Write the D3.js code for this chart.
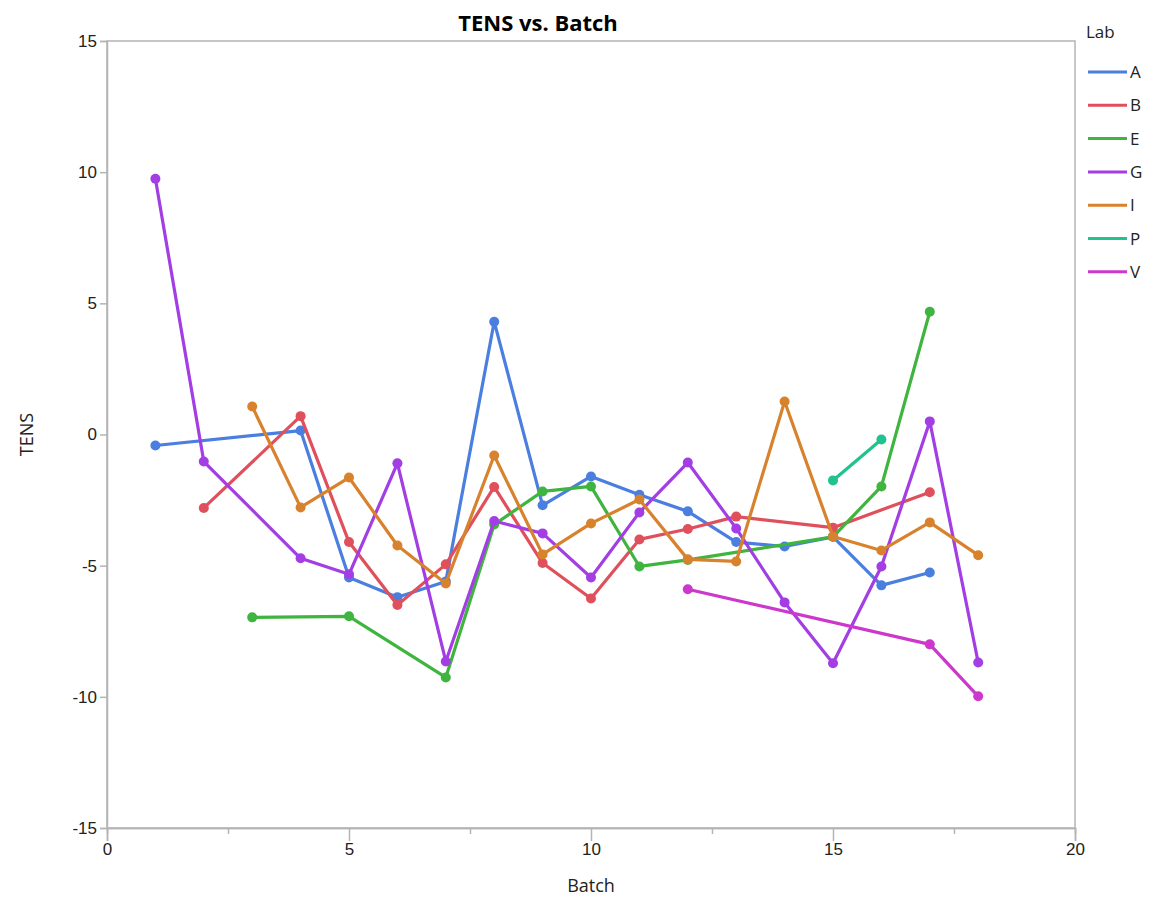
<!DOCTYPE html>
<html>
<head>
<meta charset="utf-8">
<script src="https://cdn.jsdelivr.net/npm/d3@7"></script>
<style>
  html, body { margin: 0; padding: 0; background: #fff; overflow: hidden; }
  svg { display: block; font-family: "Open Sans", "Noto Sans", sans-serif; }
</style>
</head>
<body>
<svg id="chart"></svg>
<script>
// data
const labs = ['A', 'B', 'E', 'G', 'I', 'P', 'V'];
const labColors = ['#4a7fe0', '#e0505c', '#3fb43f', '#a23ee3', '#d8822d', '#22c190', '#cc37cc'];

const batchA = [1, 4, 5, 6, 7, 8, 9, 10, 11, 12, 13, 14, 15, 16, 17];
const tensA = [-0.42, 0.15, -5.45, -6.2, -5.6, 4.3, -2.7, -1.6, -2.3, -2.93, -4.1, -4.27, -3.9, -5.75, -5.26];

const batchB = [2, 4, 5, 6, 7, 8, 9, 10, 11, 12, 13, 15, 17];
const tensB = [-2.8, 0.7, -4.1, -6.5, -4.95, -2.0, -4.9, -6.25, -4.0, -3.6, -3.13, -3.55, -2.2];

const batchE = [3, 5, 7, 8, 9, 10, 11, 12, 15, 16, 17];
const tensE = [-6.97, -6.93, -9.26, -3.43, -2.17, -1.98, -5.03, -4.78, -3.9, -1.98, 4.68];

const batchG = [1, 2, 4, 5, 6, 7, 8, 9, 10, 11, 12, 13, 14, 15, 16, 17, 18];
const tensG = [9.75, -1.03, -4.72, -5.33, -1.1, -8.65, -3.3, -3.77, -5.45, -2.97, -1.07, -3.58, -6.4, -8.72, -5.03, 0.5, -8.69];

const batchI = [3, 4, 5, 6, 7, 8, 9, 10, 11, 12, 13, 14, 15, 16, 17, 18];
const tensI = [1.07, -2.78, -1.64, -4.23, -5.68, -0.8, -4.57, -3.39, -2.48, -4.76, -4.84, 1.26, -3.89, -4.42, -3.35, -4.6];

const batchP = [15, 16];
const tensP = [-1.75, -0.19];

const batchV = [12, 17, 18];
const tensV = [-5.9, -8.0, -9.98];

const xTicks = [0, 5, 10, 15, 20];
const xMinorTicks = [2.5, 7.5, 12.5, 17.5];
const yTicks = [-15, -10, -5, 0, 5, 10, 15];

const seriesBatch = [batchA, batchB, batchE, batchG, batchI, batchP, batchV];
const seriesTens = [tensA, tensB, tensE, tensG, tensI, tensP, tensV];

const series = labs.map((lab, i) => ({
    lab: lab,
    color: labColors[i],
    points: seriesBatch[i].map((b, j) => ({ batch: b, tens: seriesTens[i][j] }))
}));

const width = 1153, height = 899;
const margin = { top: 41, right: 78, bottom: 71, left: 107 };
const innerWidth = width - margin.left - margin.right;
const innerHeight = height - margin.top - margin.bottom;

const svg = d3.select('#chart')
    .attr('width', width)
    .attr('height', height);

const chart = svg.append('g')
    .attr('transform', `translate(${margin.left}, ${margin.top})`);

const xscale = d3.scaleLinear().domain([0, 20]).range([0, innerWidth]);
const yscale = d3.scaleLinear().domain([-15, 15]).range([innerHeight, 0]);

// frame
chart.append('rect')
    .attr('x', 0).attr('y', 0)
    .attr('width', innerWidth).attr('height', innerHeight)
    .attr('fill', 'none')
    .attr('stroke', '#b4b4b4')
    .attr('stroke-width', 1.5);

// axes (plain hyphen for negatives, like the reference)
const plain = d => String(d);
const xaxis = d3.axisBottom(xscale).tickValues(xTicks).tickSize(13).tickPadding(2).tickFormat(plain);
const xaxisMinor = d3.axisBottom(xscale).tickValues(xMinorTicks).tickSize(6).tickFormat('');
const yaxis = d3.axisLeft(yscale).tickValues(yTicks).tickSize(7).tickPadding(3).tickFormat(plain);

const styleAxis = g => {
    g.select('.domain').attr('stroke', '#b4b4b4').attr('stroke-width', 1.5);
    g.selectAll('.tick line').attr('stroke', '#b4b4b4').attr('stroke-width', 1.5);
    g.selectAll('.tick text').attr('fill', '#222').style('font-size', '17px');
};

chart.append('g')
    .attr('transform', `translate(0, ${innerHeight})`)
    .call(xaxis).call(styleAxis);

chart.append('g')
    .attr('transform', `translate(0, ${innerHeight})`)
    .call(xaxisMinor).call(styleAxis);

chart.append('g')
    .call(yaxis).call(styleAxis);

// lines
const line = d3.line()
    .x(d => xscale(d.batch))
    .y(d => yscale(d.tens));

const groups = chart.selectAll('.series')
    .data(series)
    .join('g')
    .attr('class', 'series');

groups.append('path')
    .attr('d', d => line(d.points))
    .attr('fill', 'none')
    .attr('stroke', d => d.color)
    .attr('stroke-width', 3.2)
    .attr('stroke-linejoin', 'round');

groups.selectAll('circle')
    .data(d => d.points.map(p => ({ ...p, color: d.color })))
    .join('circle')
    .attr('cx', d => xscale(d.batch))
    .attr('cy', d => yscale(d.tens))
    .attr('r', 5)
    .attr('fill', d => d.color);

// titles
svg.append('text')
    .attr('x', 538).attr('y', 31)
    .attr('text-anchor', 'middle')
    .style('font-size', '22px')
    .style('font-weight', 'bold')
    .attr('fill', '#000')
    .text('TENS vs. Batch');

svg.append('text')
    .attr('x', margin.left + xscale(10)).attr('y', 892)
    .attr('text-anchor', 'middle')
    .style('font-size', '18px')
    .attr('fill', '#222')
    .text('Batch');

svg.append('text')
    .attr('transform', `translate(33, ${margin.top + yscale(0)}) rotate(-90)`)
    .attr('text-anchor', 'middle')
    .style('font-size', '18px')
    .attr('fill', '#222')
    .text('TENS');

// legend
const legend = svg.append('g')
    .attr('transform', 'translate(1086, 0)');

legend.append('text')
    .attr('x', 0).attr('y', 38)
    .style('font-size', '17px')
    .attr('fill', '#222')
    .text('Lab');

const items = legend.selectAll('.item')
    .data(series)
    .join('g')
    .attr('class', 'item')
    .attr('transform', (d, i) => `translate(0, ${72 + i * 33.3})`);

items.append('line')
    .attr('x1', 2).attr('x2', 41)
    .attr('stroke', d => d.color)
    .attr('stroke-width', 3);

items.append('text')
    .attr('x', 44).attr('y', 6)
    .style('font-size', '17px')
    .attr('fill', '#222')
    .text(d => d.lab);
</script>
</body>
</html>
